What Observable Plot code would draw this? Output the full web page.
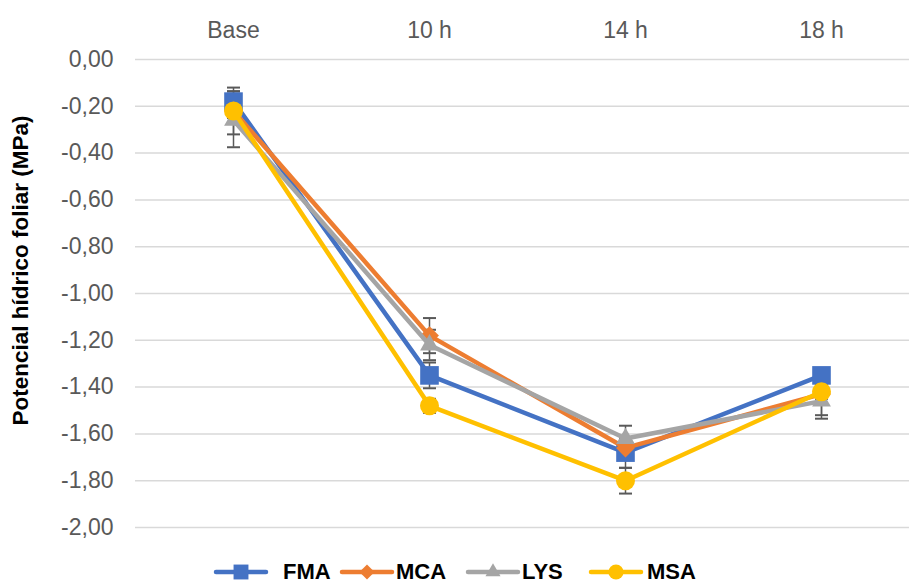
<!DOCTYPE html>
<html>
<head>
<meta charset="utf-8">
<script src="https://cdn.jsdelivr.net/npm/d3@7"></script>
<script src="https://cdn.jsdelivr.net/npm/@observablehq/plot@0.6"></script>
<style>
  html, body { margin: 0; padding: 0; background: #fff; overflow: hidden; }
  body { width: 909px; height: 585px; font-family: "Liberation Sans", Arial, sans-serif; }
  #legend { position: relative; height: 25px; }
  .item { position: absolute; top: 1px; height: 22px; display: flex; align-items: center; }
  .item span { font-weight: bold; font-size: 22px; color: #000; line-height: 22px; }
</style>
</head>
<body>
<div id="chart"></div>
<div id="legend"></div>
<script>
const times = ["Base", "10 h", "14 h", "18 h"];
const seriesNames = ["FMA", "MCA", "LYS", "MSA"];
const fma = [-0.18, -1.35, -1.68, -1.35];
const mca = [-0.22, -1.18, -1.66, -1.43];
const lys = [-0.26, -1.22, -1.62, -1.46];
const msa = [-0.22, -1.48, -1.80, -1.42];
const fmaErr = [0.045, 0.055, 0.065, 0.03];
const mcaErr = [0.10, 0.075, 0.04, 0.09];
const lysErr = [0.115, 0.065, 0.055, 0.075];
const msaErr = [0.03, 0.03, 0.055, 0.03];
const yTicks = [0, -0.2, -0.4, -0.6, -0.8, -1.0, -1.2, -1.4, -1.6, -1.8, -2.0];
const yTitle = "Potencial hídrico foliar (MPa)";

const colors = { FMA: "#4472C4", MCA: "#ED7D31", LYS: "#A5A5A5", MSA: "#FFC000" };
const symbols = { FMA: "square", MCA: "diamond2", LYS: "triangle", MSA: "circle" };
const radii = { FMA: 10.5, MCA: 8.5, LYS: 7, MSA: 9.5 };

const valuesBySeries = { FMA: fma, MCA: mca, LYS: lys, MSA: msa };
const errBySeries = { FMA: fmaErr, MCA: mcaErr, LYS: lysErr, MSA: msaErr };

const rows = [];
for (const s of seriesNames) {
  times.forEach((t, i) => {
    rows.push({ series: s, time: t, value: valuesBySeries[s][i], err: errBySeries[s][i] });
  });
}

const capSymbol = {
  draw(context, size) {
    const w = 6.5;
    context.moveTo(-w, 0);
    context.lineTo(w, 0);
  }
};

const fmtY = d => d.toFixed(2).replace("-0.00", "0.00").replace(".", ",");

const marks = [
  Plot.gridY(yTicks, { stroke: "#D9D9D9", strokeOpacity: 1, strokeWidth: 1.5 }),
  Plot.axisX({ anchor: "top", tickSize: 0, tickPadding: 22, fontSize: 23, fill: "#595959", label: null }),
  Plot.axisY(yTicks, { tickSize: 0, tickPadding: 22, fontSize: 23, fill: "#595959", tickFormat: fmtY, label: null }),
  Plot.text([yTitle], { frameAnchor: "left", rotate: -90, textAnchor: "middle", dx: -115, dy: -23, fontSize: 22.5, fontWeight: "bold", fill: "#000" }),
  Plot.ruleX(rows, { x: "time", y1: d => d.value - d.err, y2: d => d.value + d.err, stroke: "#595959", strokeWidth: 1.5 }),
  Plot.dot(rows, { x: "time", y: d => d.value - d.err, symbol: capSymbol, r: 5, stroke: "#595959", strokeWidth: 2, fill: "none" }),
  Plot.dot(rows, { x: "time", y: d => d.value + d.err, symbol: capSymbol, r: 5, stroke: "#595959", strokeWidth: 2, fill: "none" })
];
for (const s of seriesNames) {
  const data = rows.filter(d => d.series === s);
  marks.push(Plot.line(data, { x: "time", y: "value", stroke: colors[s], strokeWidth: 4.5, strokeLinejoin: "round", strokeLinecap: "round" }));
  marks.push(Plot.dot(data, { x: "time", y: "value", symbol: symbols[s], r: radii[s], fill: colors[s], stroke: "none" }));
}

const chart = Plot.plot({
  width: 909,
  height: 560,
  marginLeft: 135,
  marginRight: 0,
  marginTop: 59,
  marginBottom: 33,
  style: { fontFamily: "'Liberation Sans', Arial, sans-serif", background: "#fff", overflow: "visible" },
  x: { type: "point", domain: times, range: [233, 821], padding: 0 },
  y: { domain: [-2, 0] },
  marks
});
document.getElementById("chart").appendChild(chart);

// legend
const legendPos = [
  { s: "FMA", lineX: 213, textX: 283 },
  { s: "MCA", lineX: 339, textX: 396 },
  { s: "LYS", lineX: 465, textX: 522 },
  { s: "MSA", lineX: 588, textX: 647 }
];
const legend = document.getElementById("legend");
const ns = "http://www.w3.org/2000/svg";
for (const p of legendPos) {
  const svg = document.createElementNS(ns, "svg");
  svg.setAttribute("width", 58);
  svg.setAttribute("height", 22);
  svg.style.position = "absolute";
  svg.style.left = p.lineX + "px";
  svg.style.top = "1px";
  const line = document.createElementNS(ns, "line");
  line.setAttribute("x1", 3); line.setAttribute("x2", 53);
  line.setAttribute("y1", 11); line.setAttribute("y2", 11);
  line.setAttribute("stroke", colors[p.s]); line.setAttribute("stroke-width", 4.5);
  line.setAttribute("stroke-linecap", "round");
  svg.appendChild(line);
  const path = document.createElementNS(ns, "path");
  const sym = { square: d3.symbolSquare, diamond2: d3.symbolDiamond2, triangle: d3.symbolTriangle, circle: d3.symbolCircle }[symbols[p.s]];
  const r = radii[p.s] * 0.8;
  path.setAttribute("d", d3.symbol(sym, r * r * Math.PI)());
  path.setAttribute("transform", "translate(28,11)");
  path.setAttribute("fill", colors[p.s]);
  svg.appendChild(path);
  legend.appendChild(svg);
  const div = document.createElement("div");
  div.className = "item";
  div.style.left = p.textX + "px";
  const span = document.createElement("span");
  span.textContent = p.s;
  div.appendChild(span);
  legend.appendChild(div);
}
</script>
</body>
</html>
